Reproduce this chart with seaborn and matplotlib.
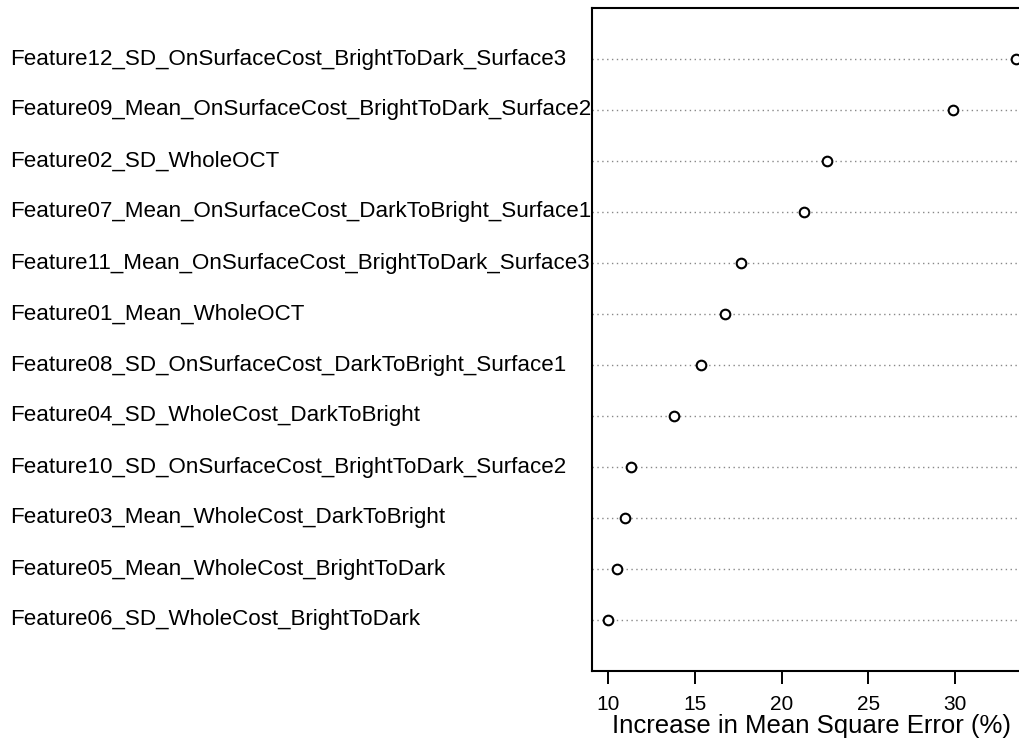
import matplotlib
matplotlib.use("Agg")
import matplotlib.pyplot as plt
import matplotlib.transforms as mtransforms
import seaborn as sns
import pandas as pd
import numpy as np

# Data (top to bottom as displayed)
features = [
    "Feature12_SD_OnSurfaceCost_BrightToDark_Surface3",
    "Feature09_Mean_OnSurfaceCost_BrightToDark_Surface2",
    "Feature02_SD_WholeOCT",
    "Feature07_Mean_OnSurfaceCost_DarkToBright_Surface1",
    "Feature11_Mean_OnSurfaceCost_BrightToDark_Surface3",
    "Feature01_Mean_WholeOCT",
    "Feature08_SD_OnSurfaceCost_DarkToBright_Surface1",
    "Feature04_SD_WholeCost_DarkToBright",
    "Feature10_SD_OnSurfaceCost_BrightToDark_Surface2",
    "Feature03_Mean_WholeCost_DarkToBright",
    "Feature05_Mean_WholeCost_BrightToDark",
    "Feature06_SD_WholeCost_BrightToDark",
]
inc_mse = [33.5, 29.9, 22.6, 21.27, 17.67, 16.72, 15.37, 13.77, 11.29, 10.96, 10.48, 10.0]
xticks = [10, 15, 20, 25, 30]
xlabel = "Increase in Mean Square Error (%)"

sns.set_style("white")
plt.rcParams["font.family"] = ["Liberation Sans", "DejaVu Sans"]
plt.rcParams.update({
    "xtick.bottom": True,
    "xtick.direction": "out",
    "xtick.major.size": 9,
    "xtick.major.width": 1.4,
    "xtick.major.pad": 8,
    "xtick.color": "black",
    "xtick.labelcolor": "black",
    "axes.labelcolor": "black",
    "text.color": "black",
})

n = len(features)
df = pd.DataFrame({"feature": features, "value": inc_mse,
                   "pos": np.arange(n, 0, -1)})

fig = plt.figure(figsize=(10.2, 7.49), dpi=100)
ax = fig.add_axes([592 / 1020, 1 - 671 / 749, 440 / 1020, (671 - 8) / 749])

for p in df["pos"]:
    ax.axhline(p, color="#888888", linestyle=(0, (1, 2.5)), linewidth=1.0, zorder=1)

sns.scatterplot(data=df, x="value", y="pos", ax=ax, marker="o", s=48,
                facecolor="white", edgecolor="black", linewidth=1.5, zorder=3,
                legend=False)

rng = max(inc_mse) - min(inc_mse)
ax.set_xlim(min(inc_mse) - 0.04 * rng, max(inc_mse) + 0.04 * rng)
ax.set_ylim(0, n + 1)
ax.set_yticks([])
ax.set_xticks(xticks)
ax.set_xticklabels([str(t) for t in xticks], fontsize=15)
ax.tick_params(axis="x", which="major", bottom=True, direction="out",
               length=9, width=1.4, pad=8, color="black", labelcolor="black")
ax.set_xlabel(xlabel, fontsize=18.5, labelpad=0)
ax.set_ylabel("")
for side in ["left", "bottom", "top", "right"]:
    ax.spines[side].set_visible(True)
    ax.spines[side].set_color("black")
    ax.spines[side].set_linewidth(1.5)

trans = mtransforms.blended_transform_factory(fig.transFigure, ax.transData)
for name, p in zip(df["feature"], df["pos"]):
    ax.text(10 / 1020, p, name, transform=trans, ha="left", va="center",
            fontsize=16.1, clip_on=False)

fig.savefig("out.png", dpi=100)
